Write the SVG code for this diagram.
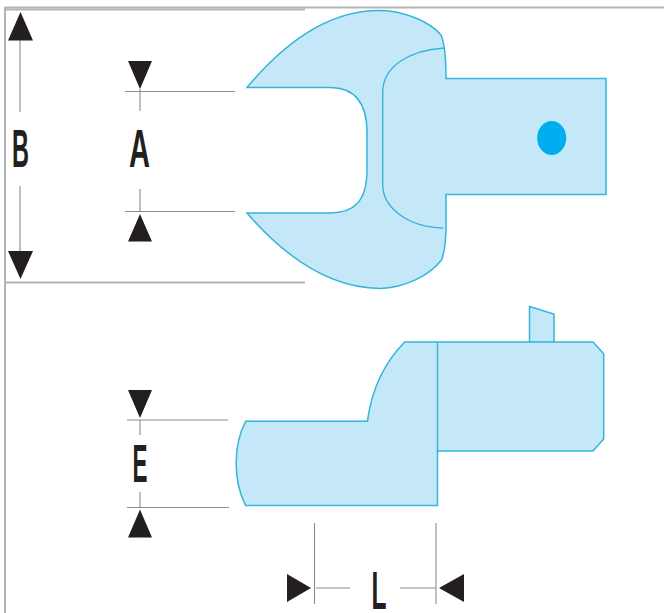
<svg xmlns="http://www.w3.org/2000/svg" width="664" height="613" viewBox="0 0 664 613">
<style>
.p{fill:#c5e8f9;stroke:#35b4dc;stroke-width:1.5;stroke-linejoin:miter}
.e{fill:none;stroke:#35b4dc;stroke-width:1.4}
.d{fill:none;stroke:#8c8c8c;stroke-width:1.1}
.f{fill:none;stroke:#b4b4b4;stroke-width:2}
.a{fill:#231f20}
text{font-family:"Liberation Sans",Arial,sans-serif;font-weight:700;font-size:54px;fill:#231f20;text-anchor:middle}
</style>
<rect width="664" height="613" fill="#fff"/>
<g id="frame">
<path class="f" d="M5 7.5H664M5 7V613"/>
<path class="f" d="M6 9.5H305M6 282.500H305" stroke-width="1.6"/>
</g>
<g id="wrench-top">
<path class="p" d="M247 87.500C285 42 330 10 380 10.500C405 11 430 22 441 35C445 44 446 60 446 78.500H606V194.500H446V227C446 240 445 250 441.500 260C430 275 405 288 380 288.500C330 288 285 257 247 213H330C355 213 367 200 367 170V133C367 103 355 87.500 330 87.500Z"/>
<path class="e" d="M444.500 48C410 50 383 66 382.700 92V185C383 208 408 227 443 228"/>
<ellipse cx="551.700" cy="138" rx="14.500" ry="17" fill="#00aeef"/>
</g>
<g id="wrench-side">
<path class="p" d="M529.500 306.500L554 314V342.500H529.500Z"/>
<path class="p" d="M245.700 421.300H367.400C372 387 385 362 404.700 342H593L603.700 353.700V439L593 451H437.500V505.400H245.500C233 480 233 445 245.700 421.300Z"/>
<path class="e" d="M437.500 342V451"/>
</g>
<g id="dimensions">
<path class="d" d="M125 91.500H235M140 89V111M125 211.500H235M140 189V212"/>
<path class="d" d="M20 40V112M20 186V252"/>
<path class="d" d="M127 420H228M140 420V435M140 492V508M127 507.500H229"/>
<path class="d" d="M314.500 523V604M316 588H350M436 523V604M400 588H436"/>
<path class="a" d="M8 40.500L20.500 12L33 40.500ZM8 251L33 251L20.500 279Z"/>
<path class="a" d="M128 61H152L140 89ZM128 241.500H152L140 214Z"/>
<path class="a" d="M128 390H152L140 418ZM128 537.500H152L140 509.500Z"/>
<path class="a" d="M287 574V602L311 588ZM464 574V602L439 588Z"/>
</g>
<g id="labels">
<text x="20.500" y="167" textLength="17" lengthAdjust="spacingAndGlyphs">B</text>
<text x="139.500" y="167" textLength="21" lengthAdjust="spacingAndGlyphs">A</text>
<text x="140" y="482" textLength="15" lengthAdjust="spacingAndGlyphs">E</text>
<text x="379" y="609" textLength="15" lengthAdjust="spacingAndGlyphs">L</text>
</g>
</svg>
